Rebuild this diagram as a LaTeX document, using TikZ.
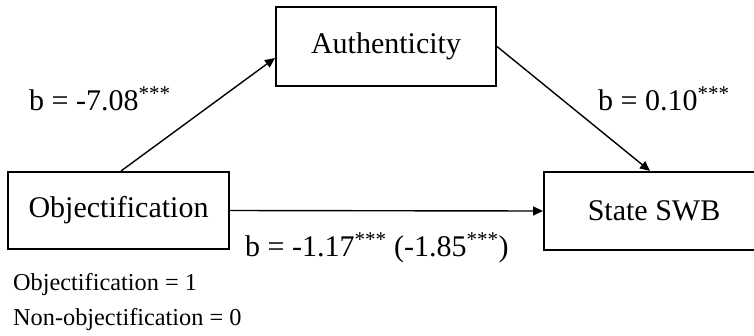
\documentclass[tikz,border=0pt]{standalone}
\usepackage{fontspec}
\setmainfont{Liberation Serif}
\usetikzlibrary{calc,arrows.meta}
\tikzset{
  varbox/.style={draw=black, line width=2pt, minimum width=220pt, inner sep=0pt, font=\fontsize{30}{34}\selectfont},
  coef/.style={inner sep=0pt, anchor=base west, font=\fontsize{30}{34}\selectfont},
  note/.style={inner sep=0pt, anchor=base west, font=\fontsize{24.3}{28}\selectfont},
  path/.style={line width=1.4pt, -{Triangle[length=10pt,width=9pt]}, shorten >=0pt}
}
\newcommand{\sig}{\textsuperscript{***}}
\begin{document}
\begin{tikzpicture}[x=1pt,y=-1pt]
\useasboundingbox (0,0) rectangle (754,335);
\clip (0,0) rectangle (754,335);
\node[varbox, minimum height=79pt] (auth) at (386,46.5) {Authenticity};
\node[varbox, minimum width=221pt, minimum height=77pt] (obj) at (118.5,210.5) {Objectification};
\node[varbox, minimum height=78pt] (swb) at (654,211) {State SWB};
\draw[path] ($(obj.north)+(2.5,0)$) -- ($(auth.west)+(0,11.5)$);
\draw[path] (auth.east) -- ($(swb.north)+(-4,0)$);
\draw[path] (obj.east) -- (swb.west);
\node[coef] (la) at (29,110) {b = -7.08\sig};
\node[coef] (lb) at (598,110) {b = 0.10\sig};
\node[coef] (lc) at (245,256) {b = -1.17\sig{} (-1.85\sig)};
\node[note] (n1) at (13,290) {Objectification = 1};
\node[note] (n2) at (13,325) {Non-objectification = 0};
\end{tikzpicture}
\end{document}
